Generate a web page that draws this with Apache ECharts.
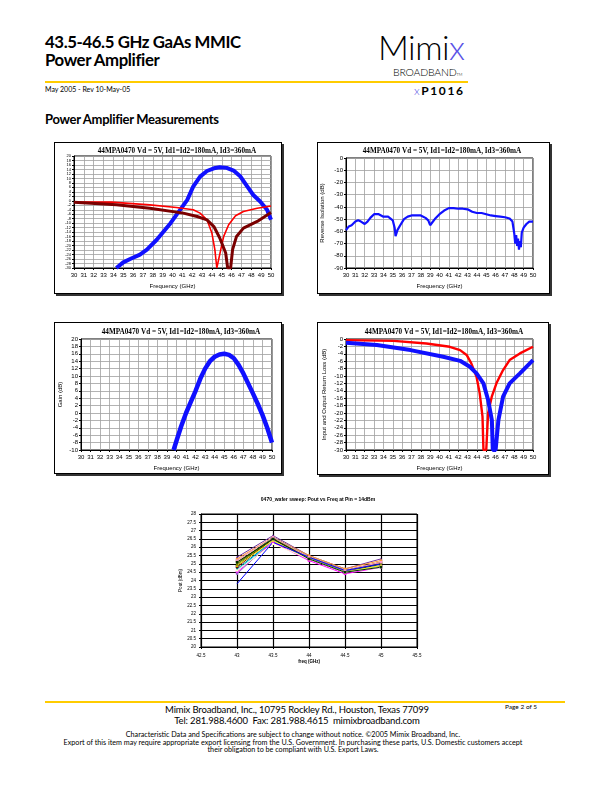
<!DOCTYPE html>
<html><head><meta charset="utf-8">
<script src="https://cdn.jsdelivr.net/npm/echarts@6/dist/echarts.min.js"></script>
<style>
html,body{margin:0;padding:0;background:#fff;}
#page{position:relative;width:612px;height:792px;overflow:hidden;font-family:Lato,"Open Sans",sans-serif;color:#000;}
.abs{position:absolute;white-space:nowrap;}
.frame{position:absolute;border:1px solid #000;box-shadow:2px 2px 0 #333;background:#fff;}
#chart{position:absolute;left:0;top:0;width:612px;height:792px;}
</style></head>
<body><div id="page">
<div class="abs" style="left:45px;top:33px;font-size:16.8px;font-weight:700;letter-spacing:-0.4px;line-height:18px;">43.5-46.5 GHz GaAs MMIC<br>Power Amplifier</div>
<div class="abs" style="left:378px;top:28px;font-size:34px;font-weight:300;letter-spacing:-0.5px;line-height:38px;">Mimi<span style="color:#5a52e6;">x</span></div>
<div class="abs" style="left:393px;top:66px;font-size:10.5px;font-weight:300;line-height:12px;letter-spacing:-0.2px;">BROADBAND<span style="font-size:4px;">TM</span></div>
<div class="abs" style="left:45px;top:81px;width:423px;height:2px;background:#ffcc00;"></div>
<div class="abs" style="left:45px;top:85px;font-size:7px;line-height:8px;">May 2005 - Rev 10-May-05</div>
<div class="abs" style="left:414px;top:84px;font-size:12px;font-weight:700;letter-spacing:1.6px;line-height:13px;"><span style="color:#5a52e6;font-weight:300;">x</span>P1016</div>
<div class="abs" style="left:45px;top:112px;font-size:13px;font-weight:700;letter-spacing:-0.3px;line-height:15px;">Power Amplifier Measurements</div>

<div class="frame" style="left:54px;top:142px;width:226px;height:150px;"></div>
<div class="frame" style="left:317px;top:142px;width:231px;height:150px;"></div>
<div class="frame" style="left:54px;top:322px;width:226px;height:150px;"></div>
<div class="frame" style="left:317px;top:322px;width:230px;height:151px;"></div>

<div class="abs" style="left:45px;top:701px;width:520px;height:2px;background:#ffcc00;"></div>
<div class="abs" style="left:505px;top:703px;font-size:6.5px;line-height:8px;">Page 2 of 5</div>
<div class="abs" style="left:0;width:594px;top:704px;font-size:9.5px;letter-spacing:-0.15px;line-height:11px;text-align:center;">Mimix Broadband, Inc., 10795 Rockley Rd., Houston, Texas 77099<br>Tel: 281.988.4600&nbsp; Fax: 281.988.4615&nbsp; mimixbroadband.com</div>
<div class="abs" style="left:0;width:586px;top:731px;font-size:7.2px;line-height:7.5px;text-align:center;">Characteristic Data and Specifications are subject to change without notice. ©2005 Mimix Broadband, Inc.<br>Export of this item may require appropriate export licensing from the U.S. Government. In purchasing these parts, U.S. Domestic customers accept<br>their obligation to be compliant with U.S. Export Laws.</div>

<div id="chart"></div>
</div>
<script>
// ---- Chart 1: S-parameters ----
const s21Freq = [34.3,35,35.7,36.7,37.4,38.4,39.1,39.8,40.4,40.9,41.5,42.1,42.8,43.5,44.2,44.8,45.5,46.2,46.9,47.6,48.2,48.9,49.6,50];
const s21Db   = [-30,-27.5,-26,-24,-21.8,-17.4,-13.7,-10,-6.3,-3.3,0.4,6.3,10.8,13.3,14.5,15,14.7,13.5,10.8,6.3,2.6,-0.3,-4,-8.5];
const s11Freq = [30,33.8,37.7,40.4,42.1,42.8,43.5,44,44.3,44.5,44.7,44.9,45.2,45.7,46.4,47.2,48.6,50];
const s11Db   = [-0.6,-0.6,-1.8,-3,-4,-5.5,-8.5,-14.4,-21.8,-30,-30,-21.8,-15.9,-10.7,-6.7,-4.8,-3.3,-2.3];
const s22Freq = [30,34.3,37.7,41.1,42.5,43.5,44.2,44.8,45.4,45.6,45.9,46.1,46.5,47.2,48.6,50];
const s22Db   = [-0.6,-1.8,-3.3,-5.5,-7,-8.5,-11.5,-16.6,-23.3,-30,-30,-21.8,-15.9,-12.2,-9.2,-5.2];
// ---- Chart 2: reverse isolation ----
const isoFreq = [30,30.3,30.6,31,31.3,31.6,32,32.3,32.6,33,33.5,34,34.5,35,35.2,35.3,35.5,35.8,36.2,36.6,37,37.5,38,38.5,38.8,39,39.2,39.5,40,40.5,41,41.5,42,42.5,43,43.5,44,44.5,45,45.5,46,46.5,47,47.5,47.8,48,48.1,48.2,48.3,48.4,48.5,48.6,48.7,48.8,49,49.3,49.6,50];
const isoDb   = [-59,-56,-55,-52,-51,-52,-54,-52,-49,-46,-46,-48,-48,-51,-57,-64,-59,-55,-50,-48,-47,-47,-47,-49,-51,-55,-53,-50,-46,-43,-41,-41,-41.5,-41.5,-42,-44,-45,-45,-46,-47,-47.5,-48,-48.5,-49.5,-52,-62,-70,-63,-72,-66,-75,-68,-73,-61,-57,-54,-52,-52];
// ---- Chart 3: gain ----
const gainFreq = [39.7,40,40.5,41,41.5,42,42.5,43,43.5,44,44.5,45,45.5,46,46.5,47,47.5,48,48.5,49,49.5,50];
const gainDb   = [-10,-7.5,-3.5,0,3,6,9.3,12,14,15.2,15.8,16,15.7,14.8,13,10.7,8,5.3,2.5,-0.5,-4,-8];
// ---- Chart 4: input / output return loss ----
const inRlFreq = [30,35.1,38.6,41.1,42.2,42.9,43.4,43.96,44.3,44.6,44.7,45,45.2,45.6,46.1,46.8,47.5,48.6,50];
const inRlDb   = [-0.3,-0.5,-1.2,-2.1,-3,-4.3,-6.6,-10.2,-14.7,-21,-30,-30,-20,-15.5,-11.9,-8.4,-5.7,-3.9,-2.1];
const outRlFreq = [30,33.3,36.9,40.4,42.2,43.25,43.96,44.7,45.2,45.6,45.7,46,46.3,46.8,47.5,48.6,50];
const outRlDb   = [-1,-1.6,-3,-4.8,-5.9,-7.5,-9.3,-12,-16.5,-21.9,-30,-30,-21.9,-15.6,-12,-9.3,-5.7];
// ---- Chart 5: wafer sweep Pout vs freq ----
const sweepFreq = [43,43.5,44,44.5,45];
const waferPout = [
  [25.4,26.7,25.5,24.7,25.3],
  [25.3,26.6,25.5,24.7,25.2],
  [25.2,26.6,25.4,24.6,25.1],
  [25.1,26.5,25.4,24.6,25.1],
  [25.0,26.6,25.4,24.6,25.0],
  [24.9,26.5,25.3,24.5,25.0],
  [24.8,26.5,25.3,24.5,24.9],
  [24.7,26.4,25.3,24.5,24.9],
  [24.6,26.4,25.3,24.5,24.9],
  [24.5,26.3,25.2,24.4,24.8],
  [24.4,26.4,25.3,24.5,24.9],
  [25.0,26.5,25.4,24.6,25.0],
  [24.9,26.4,25.3,24.5,24.9],
  [25.2,26.6,25.4,24.6,25.1],
  [24.6,26.2,25.3,24.5,24.8],
  [25.1,26.5,25.3,24.5,24.8],
  [23.8,26.3,25.4,24.6,25.0]
];
const waferColors = ['#7030a0','#ff9933','#c8a064','#993300','#008000','#000000','#800000','#008080','#00ccff','#ff00ff','#9966cc','#808000','#ffff00','#ff99cc','#ffffcc','#003300','#0000ff'];
const waferSymbols = ['triangle','circle','rect','diamond','triangle','rect','circle','diamond','triangle','rect','circle','diamond','triangle','rect','circle','rect','none'];
const freqTicks = {min:30,max:50,interval:1};

const zip = (a,b)=>a.map((v,i)=>[v,b[i]]);
const chart = echarts.init(document.getElementById('chart'),null,{renderer:'canvas'});
const titleText = '44MPA0470 Vd = 5V, Id1=Id2=180mA, Id3=360mA';
const tStyle = {fontFamily:'Liberation Serif',fontWeight:'bold',fontSize:7.2,color:'#000'};
const grids = [
  {left:74,top:156,width:197,height:112},
  {left:346,top:158,width:187,height:110},
  {left:81,top:339,width:191,height:111},
  {left:346,top:339,width:187,height:111},
  {left:201,top:514,width:216,height:133}
];
function fx(gi, name){
  return {gridIndex:gi,type:'value',min:freqTicks.min,max:freqTicks.max,interval:freqTicks.interval,
    axisLine:{onZero:false,lineStyle:{color:'#000',width:1}},axisTick:{show:true,length:2,lineStyle:{color:'#000'}},
    axisLabel:{fontFamily:'Liberation Sans',fontSize:6,color:'#000',margin:4},
    splitLine:{show:true,lineStyle:{color:'#a0a0a0',width:0.8}},
    name:name,nameLocation:'middle',nameGap:15,nameTextStyle:{fontFamily:'Liberation Sans',fontSize:6,color:'#000'}};
}
function fy(gi,min,max,interval,name,gap,fs){
  return {gridIndex:gi,type:'value',min:min,max:max,interval:interval,
    axisLine:{show:true,onZero:false,lineStyle:{color:'#000',width:1}},axisTick:{show:true,length:2,lineStyle:{color:'#000'}},
    axisLabel:{fontFamily:'Liberation Sans',fontSize:fs||6,color:'#000',margin:3},
    splitLine:{show:true,lineStyle:{color:'#a0a0a0',width:0.8}},
    name:name,nameLocation:'middle',nameGap:gap,nameRotate:90,nameTextStyle:{fontFamily:'Liberation Sans',fontSize:6,color:'#000'}};
}
const series = [];
function ln(xi,data,color,w){series.push({type:'line',xAxisIndex:xi,yAxisIndex:xi,data:data,showSymbol:false,symbol:'none',lineStyle:{color:color,width:w},itemStyle:{color:color},silent:true,animation:false});}
ln(0,zip(s21Freq,s21Db),'#1010ff',4);
ln(0,zip(s11Freq,s11Db),'#ff0000',1.6);
ln(0,zip(s22Freq,s22Db),'#7a0000',3);
ln(1,zip(isoFreq,isoDb),'#1010ff',2.2);
ln(2,zip(gainFreq,gainDb),'#1010ff',4.5);
ln(3,zip(inRlFreq,inRlDb),'#ff0000',2.4);
ln(3,zip(outRlFreq,outRlDb),'#1010ff',4);
waferPout.forEach((arr,i)=>{
  series.push({type:'line',xAxisIndex:4,yAxisIndex:4,data:zip(sweepFreq,arr),symbol:waferSymbols[i],symbolSize:2.5,showSymbol:waferSymbols[i]!=='none',
    lineStyle:{color:waferColors[i],width:1},itemStyle:{color:waferColors[i]},animation:false,silent:true});
});
const x5 = {gridIndex:4,type:'value',min:42.5,max:45.5,interval:0.5,
  axisLine:{onZero:false,lineStyle:{color:'#000',width:1}},axisTick:{show:true,length:2,lineStyle:{color:'#000'}},
  axisLabel:{fontFamily:'Liberation Sans',fontSize:4.5,color:'#000',margin:6,formatter:v=>String(v)},
  splitLine:{show:true,lineStyle:{color:'#000',width:1.2}},
  name:'freq (GHz)',nameLocation:'middle',nameGap:12,nameTextStyle:{fontFamily:'Liberation Sans',fontSize:4.5,fontWeight:'bold',color:'#000'}};
const y5 = {gridIndex:4,type:'value',min:20,max:28,interval:0.5,
  axisLine:{show:true,onZero:false,lineStyle:{color:'#000',width:1}},axisTick:{show:true,length:2,lineStyle:{color:'#000'}},
  axisLabel:{fontFamily:'Liberation Sans',fontSize:4.5,color:'#000',margin:5},
  splitLine:{show:true,lineStyle:{color:'#000',width:1.2}},
  name:'Pout (dBm)',nameLocation:'middle',nameGap:14,nameRotate:90,nameTextStyle:{fontFamily:'Liberation Sans',fontSize:4.5,color:'#000'}};
chart.setOption({
  animation:false,
  title:[
    {text:titleText,left:172,top:143,textAlign:'center',textStyle:tStyle},
    {text:titleText,left:437,top:143,textAlign:'center',textStyle:tStyle},
    {text:titleText,left:176,top:324,textAlign:'center',textStyle:tStyle},
    {text:titleText,left:439,top:324,textAlign:'center',textStyle:tStyle},
    {text:'0470_wafer sweep: Pout vs Freq at Pin = 14dBm',left:313,top:492,textAlign:'center',textStyle:{fontFamily:'Liberation Sans',fontWeight:'bold',fontSize:5,color:'#000'}}
  ],
  grid:grids.map(g=>Object.assign({show:true,borderColor:'#000',borderWidth:1,backgroundColor:'#fff'},g)),
  xAxis:[fx(0,'Frequency (GHz)'),fx(1,'Frequency (GHz)'),fx(2,'Frequency (GHz)'),fx(3,'Frequency (GHz)'),x5],
  yAxis:[fy(0,-30,20,2,'',0,4),fy(1,-90,0,10,'Reverse Isolation (dB)',21),fy(2,-10,20,2,'Gain (dB)',18),fy(3,-30,0,2,'Input and Output Return Loss (dB)',19),y5],
  series:series
});
</script>
</body></html>
